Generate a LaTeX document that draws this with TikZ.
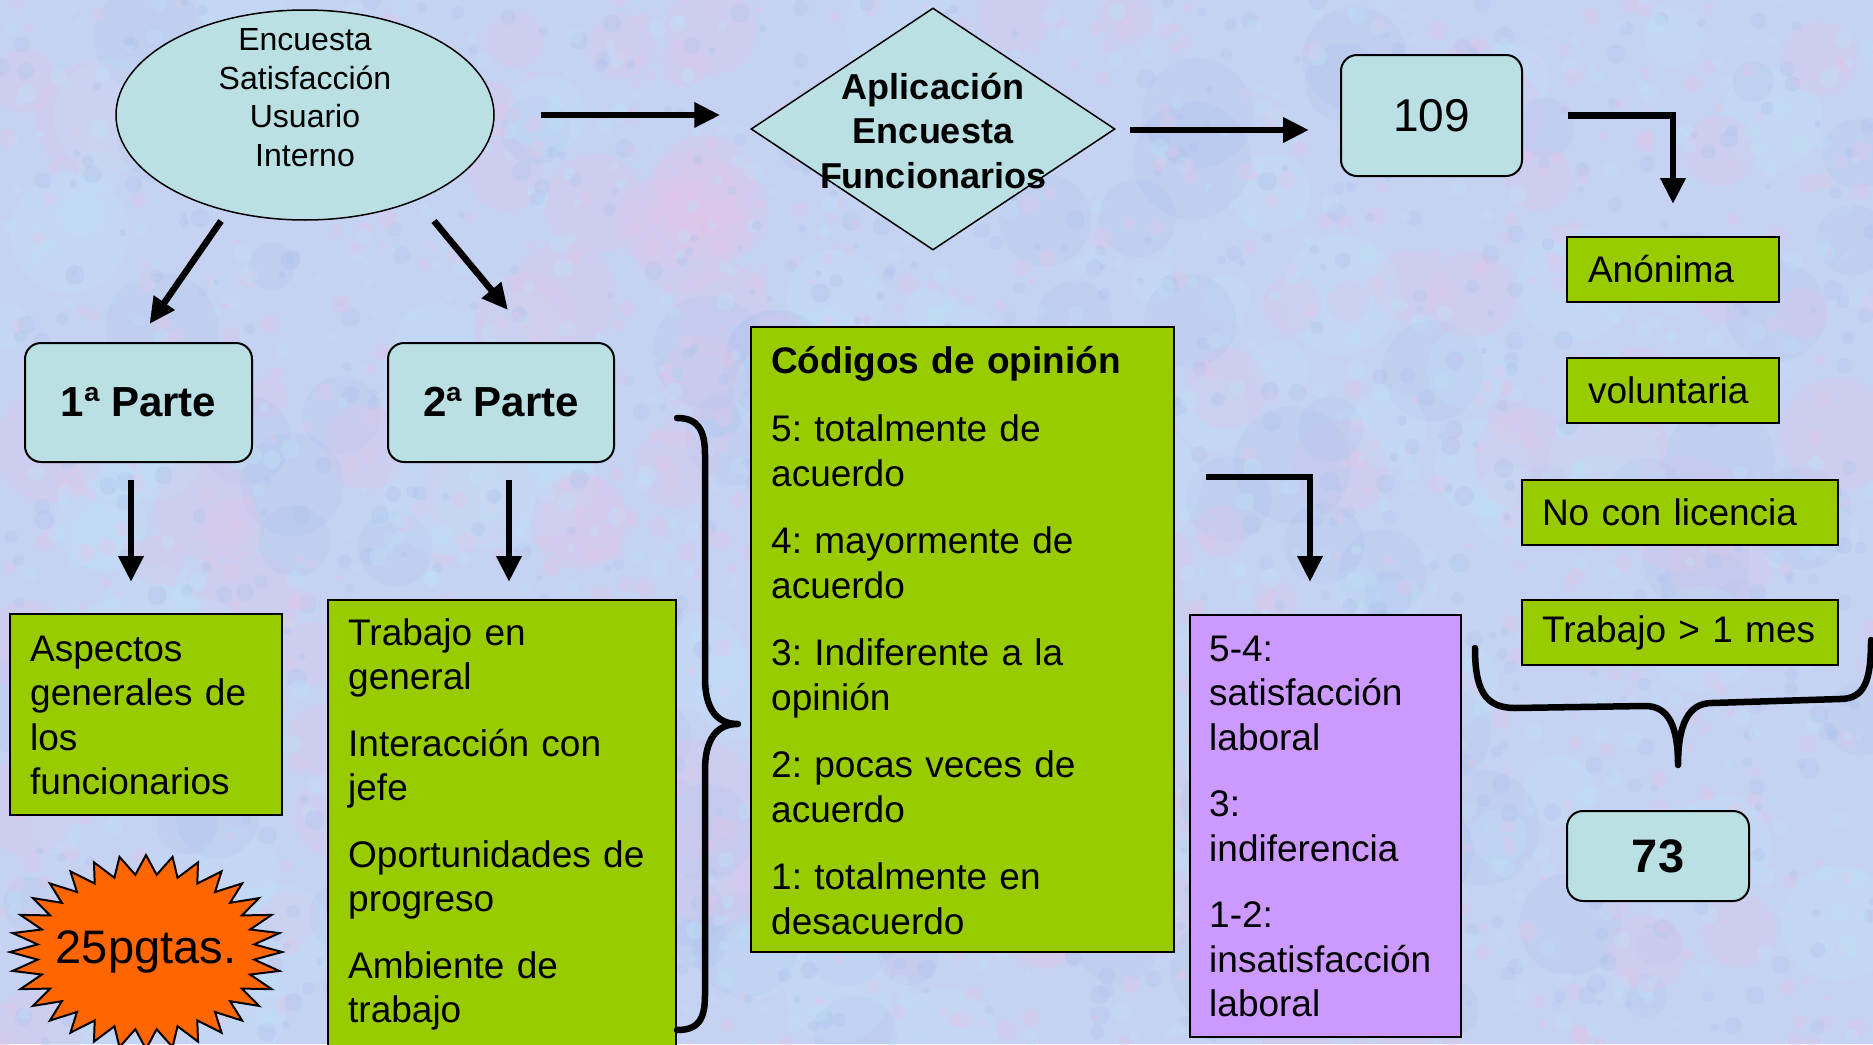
\documentclass[tikz,border=0pt]{standalone}
\usepackage{fontspec}
\setmainfont{Liberation Sans}
\frenchspacing
\usetikzlibrary{shapes.geometric,arrows.meta,calc}
\definecolor{bgbase}{RGB}{198,210,242}
\definecolor{bgc0}{RGB}{226,198,232}
\definecolor{bgc1}{RGB}{190,226,248}
\definecolor{bgc2}{RGB}{176,196,238}
\definecolor{cyanfill}{RGB}{187,224,227}
\definecolor{greenfill}{RGB}{153,204,0}
\definecolor{purplefill}{RGB}{204,153,255}
\definecolor{orangefill}{RGB}{255,102,0}
\tikzset{
 box/.style={draw=black, line width=2pt, inner sep=0pt},
 cyanbox/.style={box, fill=cyanfill, rounded corners=16pt},
 greenbox/.style={box, fill=greenfill},
 purplebox/.style={box, fill=purplefill},
 bodyfont/.style={font=\fontsize{37}{44.5}\selectfont},
 txt/.style={inner sep=0pt, anchor=north west, align=left, text width=380pt, bodyfont},
 smallgreen/.style={greenbox, minimum height=65pt, align=left, bodyfont},
 arr/.style={line width=6.5pt, -{Triangle[width=24pt,length=26pt]}, line join=miter},
 bracestyle/.style={line width=6.5pt, line cap=round, line join=round},
}
\begin{document}
\begin{tikzpicture}[x=1pt,y=-1pt]
\useasboundingbox (0,0) rectangle (1873,1044);
\clip (0,0) rectangle (1873,1044);
% background texture
\fill[bgbase] (0,0) rectangle (1873,1044);
\pgfmathsetseed{5}
\foreach \i in {1,...,260}{
  \pgfmathsetmacro\bx{rnd*1873}
  \pgfmathsetmacro\by{rnd*1044}
  \pgfmathsetmacro\br{20+rnd*40}
  \pgfmathtruncatemacro\bc{int(rnd*3)}
  \fill[bgc\bc, opacity=0.25] (\bx,\by) circle (\br pt);
}
\pgfmathsetseed{11}
\foreach \i in {1,...,2600}{
  \pgfmathsetmacro\bx{rnd*1873}
  \pgfmathsetmacro\by{rnd*1044}
  \pgfmathsetmacro\br{3+rnd*7}
  \pgfmathtruncatemacro\bc{int(rnd*3)}
  \fill[bgc\bc, opacity=0.35] (\bx,\by) circle (\br pt);
}
% ellipse
\node[ellipse, draw, line width=1.5pt, fill=cyanfill, minimum width=378pt, minimum height=210pt, inner sep=0pt] (ell) at (305,115) {};
\node[anchor=north, inner sep=0pt, align=center, font=\fontsize{32}{38.7}\selectfont] (elltext) at (ell.north) {\rule{0pt}{41pt}Encuesta\\Satisfacción\\Usuario\\ Interno};
% diamond
\node[diamond, draw, line width=1.5pt, fill=cyanfill, minimum width=364pt, minimum height=242pt, inner sep=0pt] (dia) at (933,129) {};
\node[anchor=north, inner sep=0pt, align=center, font=\fontsize{36}{44.5}\selectfont\bfseries] (diatext) at (dia.north) {\rule{0pt}{92pt}Aplicación\\Encuesta\\Funcionarios};
% 109
\node[cyanbox, minimum width=181pt, minimum height=121pt, font=\fontsize{46}{50}\selectfont] (b109) at (1431.5,115.5) {109};
% parts
\node[cyanbox, minimum width=227pt, minimum height=119pt, font=\fontsize{42}{46}\selectfont\bfseries] (p1) at (138.5,402.5) {1ª Parte};
\node[cyanbox, minimum width=226pt, minimum height=119pt, font=\fontsize{42}{46}\selectfont\bfseries] (p2) at (501,402.5) {2ª Parte};
% aspectos
\node[greenbox, minimum width=272pt, minimum height=201pt] (asp) at (146,714.5) {};
\node[txt] (asptext) at ($(asp.north west)+(21,0)$) {\rule{0pt}{48pt}Aspectos\\generales de\\los\\funcionarios};
% trabajo
\node[greenbox, minimum width=348pt, minimum height=480pt] (trab) at (502,840) {};
\node[txt] (trabtext) at ($(trab.north west)+(21,0)$) {\rule{0pt}{46pt}Trabajo en\\general\\[22pt]Interacción con\\jefe\\[22pt]Oportunidades de\\progreso\\[22pt]Ambiente de\\trabajo};
% codigos
\node[greenbox, minimum width=423pt, minimum height=625pt] (cod) at (962.5,639.5) {};
\node[txt] (codtext) at ($(cod.north west)+(21,0)$) {\rule{0pt}{47pt}\textbf{Códigos de opinión}\\[24pt]5: totalmente de\\acuerdo\\[23pt]4: mayormente de\\acuerdo\\[23pt]3: Indiferente a la\\opinión\\[23pt]2: pocas veces de\\acuerdo\\[23pt]1: totalmente en\\desacuerdo};
% purple
\node[purplebox, minimum width=271pt, minimum height=422pt] (purp) at (1325.5,826) {};
\node[txt] (purptext) at ($(purp.north west)+(20,0)$) {\rule{0pt}{47pt}5-4:\\satisfacción\\laboral\\[22pt]3:\\indiferencia\\[22pt]1-2:\\insatisfacción\\laboral};
% right small boxes
\node[smallgreen, minimum width=212pt, text width=170pt, inner xsep=21pt] (anon) at (1673,269.5) {Anónima};
\node[smallgreen, minimum width=212pt, text width=170pt, inner xsep=21pt] (volu) at (1673,390) {voluntaria};
\node[smallgreen, minimum width=316pt, text width=276pt, inner xsep=20pt] (nocon) at (1680,512) {No con licencia};
\node[smallgreen, minimum width=316pt, text width=276pt, inner xsep=20pt] (mes) at (1680,632.5) {Trabajo > 1 mes};
% 73
\node[cyanbox, minimum width=182pt, minimum height=90pt, font=\fontsize{47}{50}\selectfont\bfseries] (b73) at (1658,856) {73};
% starburst
\coordinate (starc) at (146,952);
\draw[line width=2pt, fill=orangefill, line join=miter] (282,952)
  \foreach \k [evaluate=\k as \r using {iseven(\k)?1:0.8}] in {1,...,63} { -- ({146+136*\r*cos(\k*5.625)},{952-97*\r*sin(\k*5.625)}) } -- cycle;
\node[inner sep=0pt, font=\fontsize{47}{50}\selectfont] (startext) at (starc) {25pgtas.};
% arrows
\draw[arr] ($(ell.east)+(46,0)$) -- ($(ell.east -| dia.west)+(-30,0)$);
\draw[arr] ($(dia.east)+(14,1)$) -- ($(dia.east -| b109.west)+(-31,1)$);
\draw[arr] ($(b109.east)+(45,0)$) -| ($(anon.north)+(0,-32)$);
\draw[arr] ($(ell.center)+(-84,106)$) -- ($(p1.north)+(11,-18)$);
\draw[arr] ($(ell.center)+(129,106)$) -- ($(p2.north)+(7,-32)$);
\draw[arr] ($(p1.south)+(-7.5,17)$) -- ($(p1.south |- asp.north)+(-7.5,-31)$);
\draw[arr] ($(p2.south)+(8,17)$) -- ($(p2.south |- trab.north)+(8,-17)$);
\draw[arr] ($(cod.north east)+(31,151)$) -| ($(purp.north)+(-15.5,-32)$);
% right-pointing brace
\draw[bracestyle] (677,418) .. controls (698,418) and (705,430) .. (705,455)
  -- (705,678) .. controls (705,708) and (716,724) .. (738,724)
  .. controls (716,724) and (705,740) .. (705,770)
  -- (705,995) .. controls (705,1020) and (698,1030) .. (677,1030);
% downward brace
\draw[bracestyle] (1475,648) .. controls (1475,690) and (1485,708) .. (1515,708)
  -- (1645,706) .. controls (1668,706) and (1678,725) .. (1678,765)
  .. controls (1678,725) and (1688,703) .. (1712,703)
  -- (1840,699) .. controls (1865,699) and (1871,680) .. (1871,640);
\end{tikzpicture}
\end{document}
